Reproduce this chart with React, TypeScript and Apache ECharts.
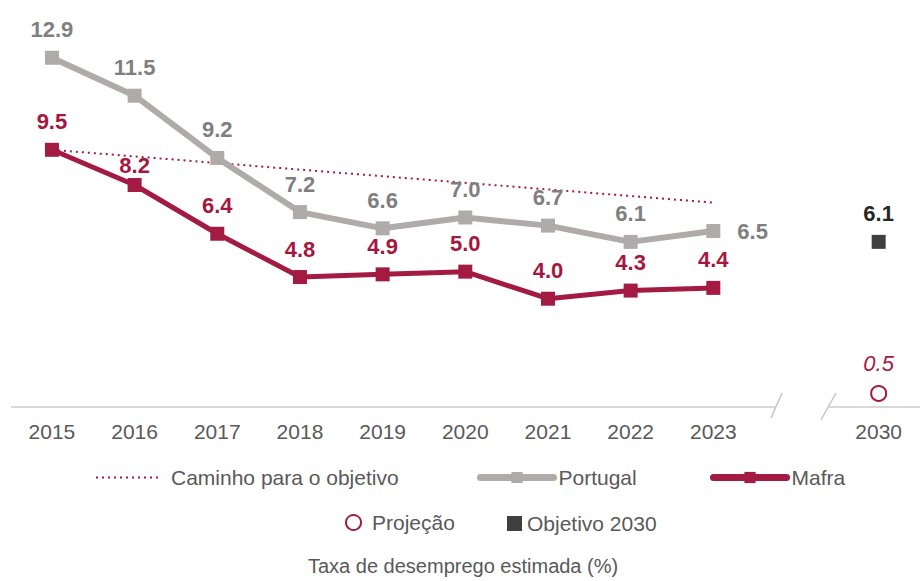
import React, { useEffect, useRef } from "react";
import * as echarts from "echarts";

const categories = ["2015", "2016", "2017", "2018", "2019", "2020", "2021", "2022", "2023", "", "2030"];
const portugal = [12.9, 11.5, 9.2, 7.2, 6.6, 7.0, 6.7, 6.1, 6.5, null, null];
const mafra = [9.5, 8.2, 6.4, 4.8, 4.9, 5.0, 4.0, 4.3, 4.4, null, null];
const caminho = [9.5, null, null, null, null, null, null, null, 7.55, null, null];
const projecao = [null, null, null, null, null, null, null, null, null, null, 0.5];
const objetivo = [null, null, null, null, null, null, null, null, null, null, 6.1];

const FONT = "'Liberation Sans', Arial, sans-serif";
const GRAY_LINE = "#afabab";
const GRAY_TEXT = "#7f7f7f";
const CRIMSON = "#a31a43";
const DARK = "#3f3f3f";
const AXIS_TEXT = "#595959";

const fmt = (p: any) => {
  const v = Array.isArray(p.value) ? p.value[1] : p.value;
  return v == null ? "" : Number(v).toFixed(1);
};

export default function App() {
  const ref = useRef<HTMLDivElement>(null);

  useEffect(() => {
    if (!ref.current) return;
    const chart = echarts.init(ref.current, null, { renderer: "svg" });

    const legendBase = {
      orient: "horizontal",
      padding: 0,
      itemHeight: 14,
      textStyle: { fontFamily: FONT, fontSize: 21, color: AXIS_TEXT },
    };

    const labelBase = {
      show: true,
      position: "top",
      distance: 10,
      fontFamily: FONT,
      fontSize: 22,
      fontWeight: "bold",
      formatter: fmt,
    };

    chart.setOption({
      animation: false,
      grid: { left: 10.6, right: -2.4, top: 28, bottom: 174, containLabel: false },
      xAxis: {
        type: "category",
        data: categories,
        boundaryGap: true,
        axisLine: { show: false },
        axisTick: { show: false },
        axisLabel: { fontFamily: FONT, fontSize: 21, color: AXIS_TEXT, margin: 14, interval: 0 },
      },
      yAxis: {
        type: "value",
        min: 0,
        max: 14,
        show: false,
        splitLine: { show: false },
      },
      title: {
        text: "Taxa de desemprego estimada (%)",
        left: 308,
        top: 556,
        padding: 0,
        textStyle: { fontFamily: FONT, fontSize: 20, fontWeight: "normal", color: AXIS_TEXT },
      },
      legend: [
        {
          ...legendBase,
          data: ["Caminho para o objetivo"],
          left: 95,
          top: 467,
          itemWidth: 62,
          itemStyle: { color: "transparent", borderWidth: 0, opacity: 0 },
          lineStyle: { width: 2 },
          textStyle: { ...legendBase.textStyle, padding: [0, 0, 0, 8] },
        },
        {
          ...legendBase,
          data: ["Portugal"],
          left: 477,
          top: 467,
          itemWidth: 73,
          lineStyle: { width: 7, cap: "round" },
        },
        {
          ...legendBase,
          data: ["Mafra"],
          left: 710,
          top: 467,
          itemWidth: 73,
          lineStyle: { width: 7, cap: "round" },
        },
        {
          ...legendBase,
          data: ["Projeção"],
          left: 345,
          top: 512,
          itemWidth: 15,
          itemHeight: 15,
          textStyle: { ...legendBase.textStyle, padding: [0, 0, 0, 6] },
        },
        { ...legendBase, data: ["Objetivo 2030"], left: 507, top: 513, itemWidth: 15, itemHeight: 15 },
      ],
      series: [
        {
          name: "Caminho para o objetivo",
          type: "line",
          data: caminho,
          connectNulls: true,
          symbol: "none",
          lineStyle: { color: CRIMSON, width: 2, type: [2, 4] },
          itemStyle: { color: CRIMSON },
          z: 1,
        },
        {
          name: "Portugal",
          type: "line",
          data: portugal.map((v, i) =>
            i === 8 ? { value: v, label: { position: "right", distance: 17 } } : v
          ),
          symbol: "rect",
          symbolSize: 14,
          lineStyle: { color: GRAY_LINE, width: 6 },
          itemStyle: { color: GRAY_LINE },
          label: { ...labelBase, color: GRAY_TEXT },
          z: 2,
        },
        {
          name: "Mafra",
          type: "line",
          data: mafra.map((v, i) => (i === 1 ? { value: v, label: { distance: 2 } } : v)),
          symbol: "rect",
          symbolSize: 14,
          lineStyle: { color: CRIMSON, width: 5 },
          itemStyle: { color: CRIMSON },
          label: { ...labelBase, color: "#a5173f" },
          z: 3,
        },
        {
          name: "Projeção",
          type: "scatter",
          data: projecao,
          symbol: "circle",
          symbolSize: 15,
          itemStyle: { color: "#ffffff", borderColor: CRIMSON, borderWidth: 2, opacity: 1 },
          label: {
            ...labelBase,
            fontWeight: "normal",
            fontStyle: "italic",
            color: CRIMSON,
          },
        },
        {
          name: "Objetivo 2030",
          type: "scatter",
          data: objetivo,
          symbol: "rect",
          symbolSize: 14,
          itemStyle: { color: DARK, opacity: 1 },
          label: { ...labelBase, color: "#262626" },
        },
      ],
    });

    const y0 = chart.convertToPixel({ yAxisIndex: 0 }, 0) as number;
    const xg = chart.convertToPixel({ xAxisIndex: 0 }, 9) as number;
    const axisStyle = { stroke: "#d9d9d9", lineWidth: 2 };
    const slashStyle = { stroke: "#c4c4c4", lineWidth: 1.5 };
    chart.setOption({
      graphic: [
        { type: "line", shape: { x1: 11, y1: y0, x2: xg - 20, y2: y0 }, style: axisStyle, z: 0 },
        { type: "line", shape: { x1: xg + 32, y1: y0, x2: 920, y2: y0 }, style: axisStyle, z: 0 },
        { type: "line", shape: { x1: xg - 25, y1: y0 + 11, x2: xg - 14, y2: y0 - 14 }, style: slashStyle },
        { type: "line", shape: { x1: xg + 25, y1: y0 + 13, x2: xg + 40, y2: y0 - 14 }, style: slashStyle },
      ],
    });

    return () => chart.dispose();
  }, []);

  return (
    <div
      ref={ref}
      style={{ position: "absolute", left: 0, top: 0, width: 920, height: 581 }}
    />
  );
}
